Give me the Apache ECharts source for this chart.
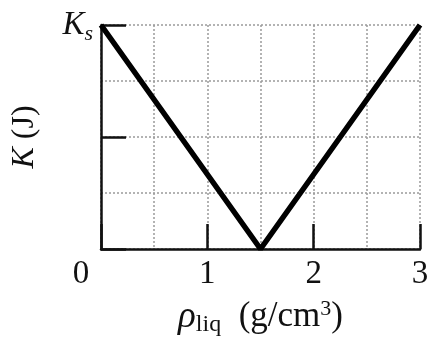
<!DOCTYPE html>
<html>
<head>
<meta charset="utf-8">
<script src="https://cdn.jsdelivr.net/npm/echarts@6/dist/echarts.min.js"></script>
<style>
  html, body { margin: 0; padding: 0; background: #fff; }
  #chart { width: 429px; height: 338px; }
</style>
</head>
<body>
<div id="chart"></div>
<script>
// V-shaped curve: K vs liquid density (Ks normalised to 1)
const rhoValues = [0, 1.5, 3];
const kValues = [1, 0, 1];
const xTickLabels = ['0', '1', '2', '3'];
const KS_VALUE = 1;

const serif = 'Liberation Serif';
const gridLine = { show: true, lineStyle: { color: '#9a9a9a', type: [2, 2], width: 1.5 } };

const chart = echarts.init(document.getElementById('chart'));

chart.setOption({
  animation: false,
  grid: { left: 101, right: 9, top: 25, bottom: 89, outerBoundsMode: 'none' },
  xAxis: {
    type: 'value',
    min: 0,
    max: 3,
    interval: 1,
    axisLine: { lineStyle: { color: '#111', width: 2.5 } },
    axisTick: { inside: true, length: 25, lineStyle: { color: '#111', width: 2.5 } },
    splitLine: gridLine,
    minorTick: { show: false, splitNumber: 2 },
    minorSplitLine: gridLine,
    axisLabel: {
      showMinLabel: true,
      showMaxLabel: true,
      hideOverlap: false,
      margin: 9,
      fontFamily: serif,
      fontSize: 33,
      color: '#111',
      formatter: function (v) {
        const label = xTickLabels[Math.round(v)];
        return v === 0 ? '{z|' + label + '}' : label;
      },
      rich: {
        z: { fontFamily: serif, fontSize: 33, color: '#111', padding: [0, 40, 0, 0] }
      }
    },
    name: '{r|ρ}{sub|liq}  (g/cm{sup|3})',
    nameLocation: 'middle',
    nameGap: 48,
    nameTextStyle: {
      fontFamily: serif,
      fontSize: 35,
      color: '#111',
      rich: {
        r: { fontFamily: serif, fontStyle: 'italic', fontSize: 37, color: '#111' },
        sub: { fontFamily: serif, fontSize: 24, color: '#111', padding: [16, 0, 0, 0] },
        sup: { fontFamily: serif, fontSize: 22, color: '#111', padding: [0, 0, 16, 0] }
      }
    }
  },
  yAxis: {
    type: 'value',
    min: 0,
    max: 1,
    interval: 0.5,
    axisLine: { show: true, lineStyle: { color: '#111', width: 2.5 } },
    axisTick: { show: true, inside: true, length: 25, lineStyle: { color: '#111', width: 2.5 } },
    splitLine: gridLine,
    minorTick: { show: false, splitNumber: 2 },
    minorSplitLine: gridLine,
    axisLabel: {
      margin: 8,
      formatter: function (v) {
        return v === KS_VALUE ? '{k|K}{s|s}' : '';
      },
      rich: {
        k: { fontFamily: serif, fontStyle: 'italic', fontSize: 33, color: '#111' },
        s: { fontFamily: serif, fontStyle: 'italic', fontSize: 22, color: '#111', padding: [18, 0, 0, 0] }
      }
    },
    name: '{k|K} (J)',
    nameLocation: 'middle',
    nameRotate: 90,
    nameGap: 60,
    nameTextStyle: {
      fontFamily: serif,
      fontSize: 32,
      color: '#111',
      rich: {
        k: { fontFamily: serif, fontStyle: 'italic', fontSize: 32, color: '#111' }
      }
    }
  },
  series: [{
    type: 'line',
    data: rhoValues.map((x, i) => [x, kValues[i]]),
    symbol: 'none',
    clip: false,
    lineStyle: { color: '#000', width: 5.5 }
  }]
});
</script>
</body>
</html>
